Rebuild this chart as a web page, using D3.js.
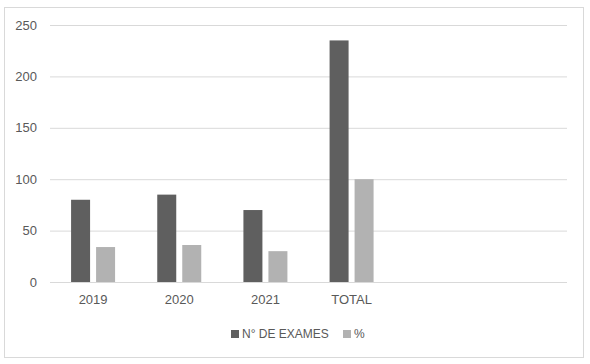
<!DOCTYPE html>
<html lang="en">
<head>
    <meta charset="UTF-8">
    <title>Exames</title>
    <script src="https://d3js.org/d3.v7.min.js"></script>
    <style>
        body { margin: 0; background: #fff; }
        text { font-family: "Liberation Sans", Arial, sans-serif; fill: #595959; }
    </style>
</head>
<body>
<script>
    // data
    const categories = ["2019", "2020", "2021", "TOTAL"]
    const slots = 6 // the plot area leaves room for two empty categories
    const series = ["N° DE EXAMES", "%"]
    const exames = [80, 85, 70, 235]
    const percent = [34, 36, 30, 100]
    const yTicks = [0, 50, 100, 150, 200, 250]
    const colors = ["#5f5f5f", "#b2b2b2"]

    const W = 590, H = 364
    const plot = { left: 50, right: 567, top: 25, bottom: 282 }

    const svg = d3.select("body")
        .append("svg")
        .attr("width", W)
        .attr("height", H)

    // chart border
    svg.append("rect")
        .attr("x", 4.5)
        .attr("y", 7.5)
        .attr("width", 579)
        .attr("height", 350)
        .attr("fill", "#fff")
        .attr("stroke", "#d9d9d9")

    const xScale = d3.scaleBand()
        .domain(d3.range(slots))
        .range([plot.left, plot.right])

    const groupWidth = 44
    const xInner = d3.scaleBand()
        .domain(series)
        .range([0, groupWidth])
        .paddingInner(0.24)

    const yScale = d3.scaleLinear()
        .domain([0, 250])
        .range([plot.bottom, plot.top])

    // gridlines + y labels
    const yAxis = svg.append("g")
        .attr("transform", `translate(${plot.left}, 0)`)
        .call(d3.axisLeft(yScale)
            .tickValues(yTicks)
            .tickSize(-(plot.right - plot.left))
            .tickPadding(13))
    yAxis.select(".domain").remove()
    yAxis.selectAll(".tick line").attr("stroke", "#d9d9d9")
    yAxis.selectAll(".tick text")
        .attr("fill", "#595959")
        .style("font-size", "13px")

    // x labels
    const xAxis = svg.append("g")
        .attr("transform", `translate(0, ${plot.bottom})`)
        .call(d3.axisBottom(xScale)
            .tickFormat(i => categories[i] || "")
            .tickSize(0)
            .tickPadding(13))
    xAxis.select(".domain").remove()
    xAxis.selectAll(".tick text")
        .attr("fill", "#595959")
        .style("font-size", "13px")

    const rows = categories.map((c, i) => ({ i, values: [exames[i], percent[i]] }))

    const groups = svg.append("g")
        .selectAll("g")
        .data(rows)
        .enter()
        .append("g")
        .attr("transform", d => `translate(${xScale(d.i) + (xScale.bandwidth() - groupWidth) / 2}, 0)`)

    groups.selectAll("rect")
        .data(d => d.values.map((v, k) => ({ key: series[k], value: v, k })))
        .enter()
        .append("rect")
        .attr("x", d => xInner(d.key))
        .attr("y", d => yScale(d.value))
        .attr("width", xInner.bandwidth())
        .attr("height", d => yScale(0) - yScale(d.value))
        .attr("fill", d => colors[d.k])

    // legend
    const legendX = [231, 343]
    const legend = svg.append("g")
        .selectAll("g")
        .data(series)
        .enter()
        .append("g")
        .attr("transform", (d, i) => `translate(${legendX[i]}, 334)`)

    legend.append("rect")
        .attr("x", 0)
        .attr("y", -4)
        .attr("width", 8)
        .attr("height", 8)
        .attr("fill", (d, i) => colors[i])

    legend.append("text")
        .attr("x", 11)
        .attr("dy", "0.35em")
        .style("font-size", "12px")
        .text(d => d)
</script>
</body>
</html>
